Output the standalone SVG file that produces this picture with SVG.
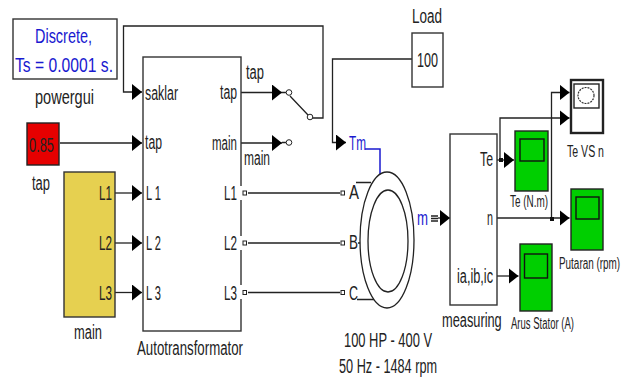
<svg xmlns="http://www.w3.org/2000/svg" width="628" height="377" viewBox="0 0 628 377">
<style>
text{font-family:"Liberation Sans",Arial,sans-serif;font-size:20px;fill:#222}
.b{fill:#fff;stroke:#333;stroke-width:1.4}
.w{fill:none;stroke:#222;stroke-width:1.3}
.s{font-size:16px}
.blue{fill:#1a1ad0}
.g{fill:#00cf00;stroke:#222;stroke-width:1.4}
.i{fill:#00cf00;stroke:#111;stroke-width:1.4}
.p{fill:#fff;stroke:#222;stroke-width:1}
.k{fill:#111}
</style>
<defs>
<marker id="a" markerUnits="userSpaceOnUse" markerWidth="11" markerHeight="17" refX="10" refY="8" orient="auto"><path d="M0 0L10 8L0 16Z" fill="#000"/></marker>
</defs>
<rect width="628" height="377" fill="#fff"/>
<g id="connectors">
<path class="w" d="M311 118H323V26H123.500V92H142" marker-end="url(#a)"/>
<path class="w" d="M60 143H142" marker-end="url(#a)"/>
<path class="w" d="M115 193H142" marker-end="url(#a)"/>
<path class="w" d="M115 243H142" marker-end="url(#a)"/>
<path class="w" d="M115 292.500H142" marker-end="url(#a)"/>
<path class="w" d="M241 92.500H282" marker-end="url(#a)"/>
<path class="w" d="M241 143H282" marker-end="url(#a)"/>
<path class="w" d="M282 92.500H286M290 96L308 115M282 142.500H286"/>
<circle class="p" cx="289" cy="92.500" r="2.800"/>
<circle class="p" cx="289" cy="142.500" r="2.800"/>
<circle class="p" cx="310" cy="117" r="2.800"/>
<path class="w" d="M412 59H332.500V142.500H346" marker-end="url(#a)"/>
<path d="M365 149H380V175" fill="none" stroke="#1a1ad0" stroke-width="1.500"/>
<path class="w" d="M248 193H340M248 243H340M248 292.500H340M356 182.500H371M358 243H361M357 299.500H376"/>
<path class="w" d="M431 216H438M431 218.500H438M431 221H438"/>
<path class="w" d="M438 218H450" marker-end="url(#a)"/>
<path class="w" d="M497 160H514" marker-end="url(#a)"/>
<path class="w" d="M500 160V118H569.500" marker-end="url(#a)"/>
<path class="w" d="M497 218H569.500" marker-end="url(#a)"/>
<path class="w" d="M551.500 218V92.500H569.500" marker-end="url(#a)"/>
<path class="w" d="M497 276H518.500" marker-end="url(#a)"/>
<rect class="k" x="499" y="158" width="4" height="4"/>
<rect class="k" x="550" y="217" width="4" height="4"/>
</g>
<g id="powergui">
<rect class="b" x="13" y="19" width="104" height="60"/>
<text class="blue" x="35" y="43" textLength="57" lengthAdjust="spacingAndGlyphs">Discrete,</text>
<text class="blue" x="15" y="72" textLength="98" lengthAdjust="spacingAndGlyphs">Ts = 0.0001 s.</text>
<text x="35" y="104" textLength="59" lengthAdjust="spacingAndGlyphs">powergui</text>
</g>
<g id="tap">
<rect x="27" y="123" width="32" height="42" fill="#e60000" stroke="#222" stroke-width="1.400"/>
<text x="29" y="152" textLength="25" lengthAdjust="spacingAndGlyphs">0.85</text>
<text x="32" y="190" textLength="18" lengthAdjust="spacingAndGlyphs">tap</text>
</g>
<g id="main">
<rect x="64" y="172" width="51" height="145" fill="#e6d050" stroke="#333" stroke-width="1.400"/>
<text x="99" y="200" textLength="13" lengthAdjust="spacingAndGlyphs">L1</text>
<text x="99" y="250" textLength="13" lengthAdjust="spacingAndGlyphs">L2</text>
<text x="99" y="300" textLength="13" lengthAdjust="spacingAndGlyphs">L3</text>
<text x="74" y="339" textLength="28" lengthAdjust="spacingAndGlyphs">main</text>
</g>
<g id="autotransformator">
<rect class="b" x="143" y="57" width="98" height="274"/>
<rect x="239" y="186" width="4" height="14" fill="#fff"/>
<rect x="239" y="236" width="4" height="14" fill="#fff"/>
<rect x="239" y="285" width="4" height="14" fill="#fff"/>
<rect class="p" x="243" y="191" width="3.500" height="4"/>
<rect class="p" x="243" y="241" width="3.500" height="4"/>
<rect class="p" x="243" y="290.500" width="3.500" height="4"/>
<text x="145" y="100" textLength="33" lengthAdjust="spacingAndGlyphs">saklar</text>
<text x="145" y="149" textLength="17" lengthAdjust="spacingAndGlyphs">tap</text>
<text x="146" y="200" textLength="15" lengthAdjust="spacingAndGlyphs">L 1</text>
<text x="146" y="250" textLength="15" lengthAdjust="spacingAndGlyphs">L 2</text>
<text x="146" y="300" textLength="15" lengthAdjust="spacingAndGlyphs">L 3</text>
<text x="220" y="99" textLength="17" lengthAdjust="spacingAndGlyphs">tap</text>
<text x="212" y="150" textLength="25" lengthAdjust="spacingAndGlyphs">main</text>
<text x="224" y="200" textLength="13" lengthAdjust="spacingAndGlyphs">L1</text>
<text x="224" y="250" textLength="13" lengthAdjust="spacingAndGlyphs">L2</text>
<text x="224" y="300" textLength="13" lengthAdjust="spacingAndGlyphs">L3</text>
<text x="137" y="355" textLength="106" lengthAdjust="spacingAndGlyphs">Autotransformator</text>
</g>
<g id="switch">
<text x="246" y="79" textLength="18" lengthAdjust="spacingAndGlyphs">tap</text>
<text x="244" y="165" textLength="26" lengthAdjust="spacingAndGlyphs">main</text>
</g>
<g id="load">
<rect class="b" x="412" y="33" width="31" height="54"/>
<text x="417" y="67" textLength="21" lengthAdjust="spacingAndGlyphs">100</text>
<text x="412" y="23" textLength="30" lengthAdjust="spacingAndGlyphs">Load</text>
</g>
<g id="motor">
<ellipse cx="387" cy="240" rx="27" ry="68" fill="#fff" stroke="#222" stroke-width="1.300"/>
<ellipse cx="388" cy="241" rx="20" ry="51" fill="#fff" stroke="#222" stroke-width="1.300"/>
<rect class="p" x="341" y="191" width="3.500" height="4"/>
<rect class="p" x="341" y="241" width="3.500" height="4"/>
<rect class="p" x="341" y="290.500" width="3.500" height="4"/>
<text class="blue" x="349" y="150" textLength="17" lengthAdjust="spacingAndGlyphs">Tm</text>
<text class="blue" x="417" y="225" textLength="11" lengthAdjust="spacingAndGlyphs">m</text>
<text x="349" y="199" textLength="10" lengthAdjust="spacingAndGlyphs">A</text>
<text x="349" y="249" textLength="9" lengthAdjust="spacingAndGlyphs">B</text>
<text x="349" y="300" textLength="9" lengthAdjust="spacingAndGlyphs">C</text>
<text x="344" y="347" textLength="88" lengthAdjust="spacingAndGlyphs">100 HP - 400 V</text>
<text x="339" y="373" textLength="98" lengthAdjust="spacingAndGlyphs">50 Hz - 1484 rpm</text>
</g>
<g id="measuring">
<rect class="b" x="450" y="134" width="47" height="171"/>
<text x="480" y="166" textLength="13" lengthAdjust="spacingAndGlyphs">Te</text>
<text x="487" y="225" textLength="6" lengthAdjust="spacingAndGlyphs">n</text>
<text x="457" y="283" textLength="36" lengthAdjust="spacingAndGlyphs">ia,ib,ic</text>
<text transform="translate(442 327) scale(.64 1)">measuring</text>
</g>
<g id="scope-te">
<rect class="g" x="515" y="131" width="33" height="60"/>
<rect class="i" x="520" y="139" width="24" height="22"/>
<text class="s" x="510" y="207" textLength="38" lengthAdjust="spacingAndGlyphs">Te (N.m)</text>
</g>
<g id="scope-te-vs-n">
<rect x="571" y="80" width="32" height="53" fill="#fff" stroke="#222" stroke-width="2.400"/>
<rect x="574" y="84" width="25" height="24" fill="#fff" stroke="#222" stroke-width="1.400"/>
<circle cx="586" cy="95.500" r="8" fill="none" stroke="#333" stroke-width="1.200" stroke-dasharray="2 1"/>
<text class="s" x="567" y="157" textLength="37" lengthAdjust="spacingAndGlyphs">Te VS n</text>
</g>
<g id="scope-putaran">
<rect class="g" x="571" y="189" width="32" height="61"/>
<rect class="i" x="576" y="197" width="23" height="22"/>
<text class="s" transform="translate(559 269) scale(.62 1)">Putaran (rpm)</text>
</g>
<g id="scope-arus">
<rect class="g" x="520" y="244" width="32" height="67"/>
<rect class="i" x="524.500" y="254" width="23" height="24"/>
<text class="s" transform="translate(511 329) scale(.595 1)">Arus Stator (A)</text>
</g>
</svg>
